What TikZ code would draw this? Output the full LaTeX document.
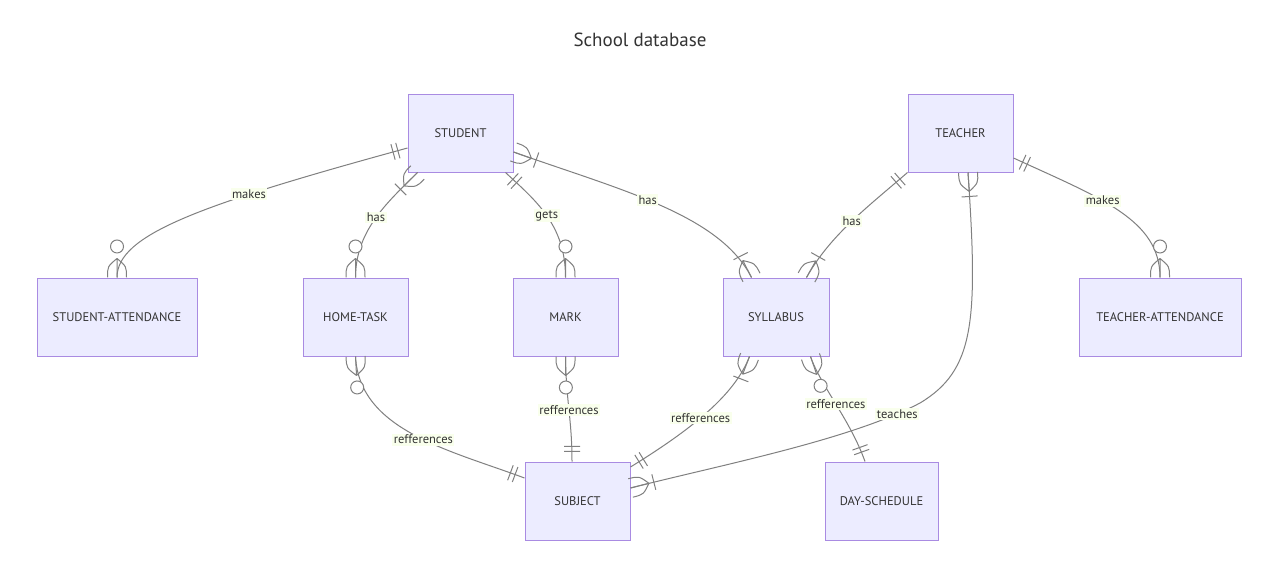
\documentclass[tikz,border=0pt]{standalone}
\usepackage{fontspec}
\setmainfont{PT Sans}
\usetikzlibrary{positioning, decorations.markings}

\definecolor{entityfill}{HTML}{ECECFF}
\definecolor{entityline}{HTML}{A98BE2}
\definecolor{relline}{HTML}{808080}
\definecolor{labelfill}{HTML}{F9FFEC}
\definecolor{inktext}{HTML}{333333}

% crow's foot end markers (x points away from the entity)
\newcommand\erOnlyOne{\draw[relmark] (10pt,-8pt) -- (10pt,8pt) (15pt,-8pt) -- (15pt,8pt);}
\newcommand\erCrow{\draw[relmark] (0pt,0pt) -- (19pt,0pt)
  (0pt,9.5pt) .. controls (11pt,9.5pt) .. (19pt,0pt)
  (0pt,-9.5pt) .. controls (11pt,-9.5pt) .. (19pt,0pt);}
\newcommand\erOneMany{\erCrow\draw[relmark] (24pt,-8pt) -- (24pt,8pt);}
\newcommand\erZeroMany{\erCrow\draw[relmark, fill=white] (31pt,0pt) circle (6.5pt);}

\tikzset{
  relmark/.style={draw=relline, line width=1pt},
  ends/.style 2 args={postaction={decorate, decoration={markings,
      mark=at position 0 with {#1},
      mark=at position 0.9999 with {\begin{scope}[xscale=-1]#2\end{scope}}}}}
}

\begin{document}
\begin{tikzpicture}[
    x=1pt, y=-1pt,
    entity/.style={draw=entityline, fill=entityfill, line width=1pt, minimum width=105pt,
      minimum height=78pt, inner sep=0pt, text=inktext, font=\fontsize{12.5}{15}\selectfont},
    rel/.style={draw=relline, line width=1pt},
    rellabel/.style={fill=labelfill, inner sep=1.5pt, text=inktext, font=\fontsize{12.5}{15}\selectfont}
  ]
  \path[fill=white, use as bounding box] (0,0) rectangle (1280,573);

  \node (title) at (640,40) [text=inktext, font=\fontsize{19}{22}\selectfont] {School database};

  % Entities
  \node (student) at (460.5,133) [entity] {STUDENT};
  \node (teacher) at (960.5,133) [entity] {TEACHER};

  \node (hometask) at (355.5,317) [entity] {HOME-TASK};
  \node (stuatt) [entity, minimum width=160pt, left=105pt of hometask] {STUDENT-ATTENDANCE};
  \node (mark) [entity, right=104pt of hometask] {MARK};
  \node (syllabus) [entity, minimum width=106pt, right=104pt of mark] {SYLLABUS};
  \node (teachatt) [entity, minimum width=162pt, right=249pt of syllabus] {TEACHER-ATTENDANCE};

  \node (subject) at (577.5,501) [entity] {SUBJECT};
  \node (dayschedule) [entity, minimum width=113pt, right=194pt of subject] {DAY-SCHEDULE};

  \coordinate (bend) at (920,403);

  % Relationships
  \draw[rel, ends={\erOnlyOne}{\erZeroMany}] ([yshift=-15pt]student.west)
    .. controls +(-208,57) and +(0,-43) .. (stuatt.north)
    node[rellabel, pos=0.31] {makes};
  \draw[rel, ends={\erOneMany}{\erZeroMany}] ([xshift=10pt]student.south west)
    .. controls +(-28,28) and +(0,-48) .. (hometask.north)
    node[rellabel, pos=0.5] {has};
  \draw[rel, ends={\erOnlyOne}{\erZeroMany}] ([xshift=-8pt]student.south east)
    .. controls +(30,28) and +(0,-53) .. (mark.north)
    node[rellabel, pos=0.5] {gets};
  \draw[rel, ends={\erOneMany}{\erOneMany}] ([yshift=-19pt]student.east)
    .. controls +(107,38) and +(-32,-63) .. ([xshift=29pt]syllabus.north west)
    node[rellabel, pos=0.45] {has};
  \draw[rel, ends={\erOnlyOne}{\erOneMany}] (teacher.south west)
    .. controls +(-38,33) and +(24,-43) .. ([xshift=-23pt]syllabus.north east)
    node[rellabel, pos=0.5] {has};
  \draw[rel, ends={\erOnlyOne}{\erZeroMany}] ([yshift=-25pt]teacher.east)
    .. controls +(87,40) and +(0,-58) .. (teachatt.north)
    node[rellabel, pos=0.4] {makes};

  \draw[rel, ends={\erZeroMany}{\erOnlyOne}] (hometask.south)
    .. controls +(4,74) and +(-75,-28) .. ([yshift=23pt]subject.west)
    node[rellabel, pos=0.55] {refferences};
  \draw[rel, ends={\erZeroMany}{\erOnlyOne}] (mark.south)
    .. controls +(0.5,44) and +(0,-42) .. ([xshift=-5.5pt]subject.north)
    node[rellabel, pos=0.5] {refferences};
  \draw[rel, ends={\erOneMany}{\erOnlyOne}] ([xshift=27pt]syllabus.south west)
    .. controls +(-15,39) and +(60,-37) .. ([yshift=34pt]subject.east)
    node[rellabel, pos=0.55] {refferences};
  \draw[rel, ends={\erZeroMany}{\erOnlyOne}] ([xshift=-19pt]syllabus.south east)
    .. controls +(10,29) and +(-15,-42) .. ([xshift=-16.5pt]dayschedule.north)
    node[rellabel, pos=0.5] {refferences};
  \draw[rel, ends={\erOneMany}{\erOneMany}] ([xshift=7.5pt]teacher.south)
    .. controls +(10,148) and +(55,-33) .. (bend)
    .. controls +(-70,37) and +(90,-23) .. ([yshift=13pt]subject.east)
    node[rellabel, pos=0.1] {teaches};
\end{tikzpicture}
\end{document}
